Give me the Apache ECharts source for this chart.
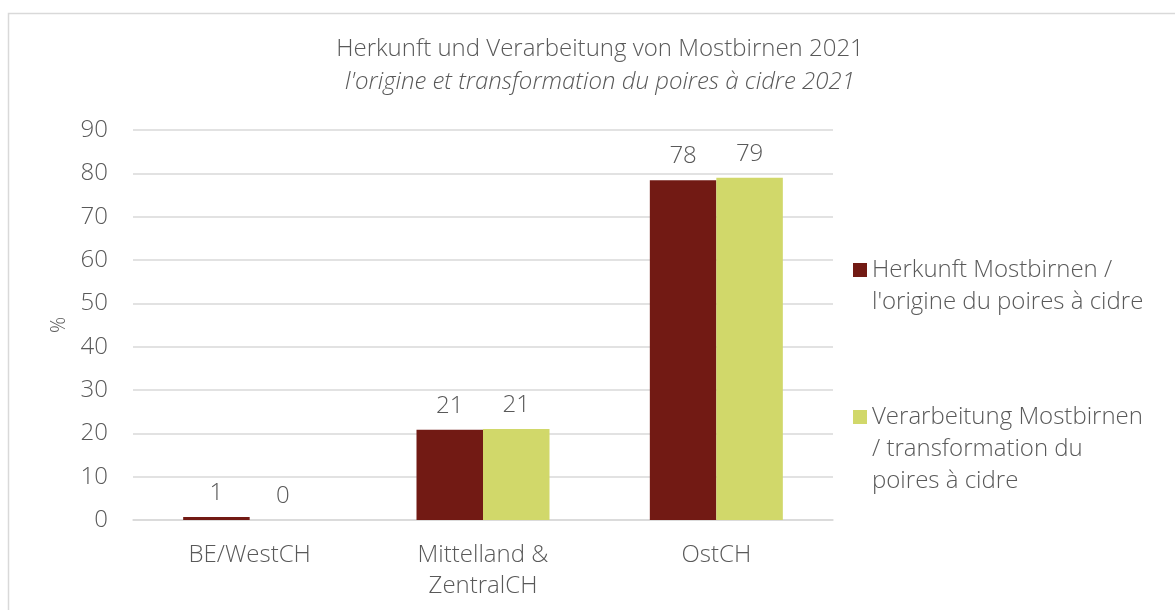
<!DOCTYPE html>
<html><head><meta charset="utf-8">
<script src="https://cdn.jsdelivr.net/npm/echarts@6/dist/echarts.min.js"></script>
<style>html,body{margin:0;padding:0;background:#fff}#c{width:1175px;height:610px}</style>
</head><body><div id="c"></div>
<script>
const categories = ['BE/WestCH', 'Mittelland &\nZentralCH', 'OstCH'];
const herkunft = [0.7, 20.8, 78.4];
const verarbeitung = [0.0, 21.0, 79.0];
const seriesNames = ['Herkunft Mostbirnen /\nl\'origine du poires à cidre', 'Verarbeitung Mostbirnen\n/ transformation du\npoires à cidre'];
const titleMain = 'Herkunft und Verarbeitung von Mostbirnen 2021';
const titleSub = 'l\'origine et transformation du poires à cidre 2021';

const FONT = '"Open Sans"';
const GREY = '#595959';
const FS = 24;
const chart = echarts.init(document.getElementById('c'), null, {renderer: 'canvas'});
chart.setOption({
  animation: false,
  backgroundColor: '#fff',
  graphic: [{type: 'rect', shape: {x: 8.5, y: 13.5, width: 1300, height: 800}, style: {fill: 'none', stroke: '#d9d9d9', lineWidth: 1.5}, silent: true}],
  title: {
    text: titleMain, subtext: titleSub, left: 595, top: 32, textAlign: 'center', itemGap: 9,
    textStyle: {fontFamily: FONT, fontWeight: 300, fontSize: FS, color: GREY},
    subtextStyle: {fontFamily: FONT, fontWeight: 300, fontStyle: 'italic', fontSize: FS, color: GREY}
  },
  grid: {left: 133, right: 342, top: 130, bottom: 90, containLabel: false},
  xAxis: {
    type: 'category', data: categories,
    axisLine: {lineStyle: {color: '#d9d9d9', width: 1.5}}, axisTick: {show: false},
    axisLabel: {fontFamily: FONT, fontWeight: 300, fontSize: FS, color: GREY, margin: 20, lineHeight: 31}
  },
  yAxis: {
    type: 'value', min: 0, max: 90, interval: 10,
    name: '%', nameLocation: 'middle', nameGap: 63,
    nameTextStyle: {fontFamily: FONT, fontWeight: 300, fontSize: 20, color: GREY},
    axisLine: {show: false}, axisTick: {show: false},
    splitLine: {lineStyle: {color: '#d9d9d9', width: 1.5}},
    axisLabel: {fontFamily: FONT, fontWeight: 300, fontSize: FS, color: GREY, margin: 25}
  },
  legend: [
    {data: [seriesNames[0]], orient: 'vertical', left: 853, top: 222, padding: 0, itemWidth: 14, itemHeight: 14, itemGap: 0,
     icon: 'rect', formatter: n => '\n' + n,
     textStyle: {fontFamily: FONT, fontWeight: 300, fontSize: FS, color: GREY, lineHeight: 32}},
    {data: [seriesNames[1]], orient: 'vertical', left: 853, top: 337, padding: 0, itemWidth: 14, itemHeight: 14, itemGap: 0,
     icon: 'rect', formatter: n => '\n\n' + n,
     textStyle: {fontFamily: FONT, fontWeight: 300, fontSize: FS, color: GREY, lineHeight: 32}}
  ],
  series: [
    {name: seriesNames[0], type: 'bar', data: herkunft, barGap: '0%', barCategoryGap: '43%',
     itemStyle: {color: '#721A14'},
     label: {show: true, position: 'top', distance: 12, fontFamily: FONT, fontWeight: 300, fontSize: FS, color: GREY, formatter: p => Math.round(p.value)}},
    {name: seriesNames[1], type: 'bar', data: verarbeitung,
     itemStyle: {color: '#D1D86A'},
     label: {show: true, position: 'top', distance: 12, fontFamily: FONT, fontWeight: 300, fontSize: FS, color: GREY, formatter: p => Math.round(p.value)}}
  ]
});
</script></body></html>
